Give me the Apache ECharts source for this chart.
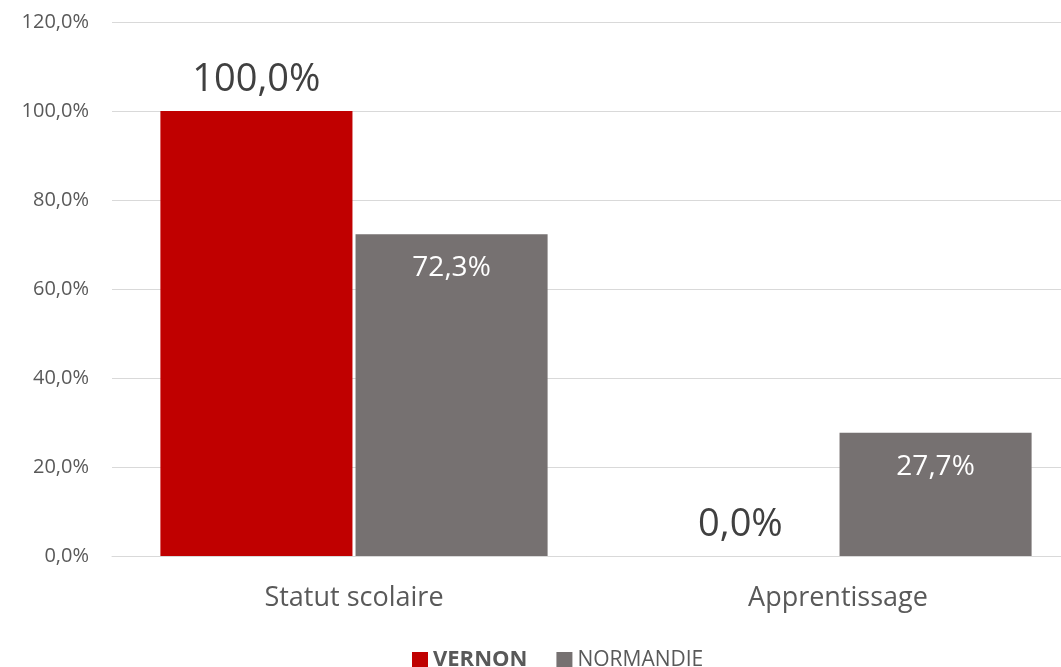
<!DOCTYPE html>
<html>
<head>
<meta charset="utf-8">
<script src="https://cdn.jsdelivr.net/npm/echarts@6/dist/echarts.min.js"></script>
<style>
html, body { margin: 0; padding: 0; background: #fff; }
#chart { width: 1061px; height: 667px; }
</style>
</head>
<body>
<div id="chart"></div>
<script>
var categories = ['Statut scolaire', 'Apprentissage'];
var vernon = [1.0, 0.0];
var normandie = [0.723, 0.277];
var yTicks = [0, 0.2, 0.4, 0.6, 0.8, 1.0, 1.2];

function pct(v) {
    return (v * 100).toFixed(1).replace('.', ',') + '%';
}

var myChart = echarts.init(document.getElementById('chart'));
var font = '"Open Sans", "Noto Sans", sans-serif';

var option = {
    animation: false,
    textStyle: { fontFamily: font },
    grid: { left: 112, width: 968, top: 22, bottom: 111, containLabel: false, outerBoundsMode: 'none' },
    legend: {
        top: 644,
        left: 407,
        itemWidth: 16,
        itemHeight: 16,
        itemGap: 29,
        icon: 'rect',
        textStyle: { fontSize: 21, color: '#595959', fontFamily: font },
        data: [
            { name: 'VERNON', textStyle: { fontWeight: 'bold', fontSize: 22 } },
            { name: 'NORMANDIE' }
        ]
    },
    xAxis: {
        type: 'category',
        data: categories,
        axisLine: { show: true, lineStyle: { color: '#D9D9D9' } },
        axisTick: { show: false },
        axisLabel: { fontSize: 27, color: '#595959', margin: 29 }
    },
    yAxis: {
        type: 'value',
        min: yTicks[0],
        max: yTicks[yTicks.length - 1],
        interval: 0.2,
        axisLine: { show: false },
        axisTick: { show: false },
        splitLine: { lineStyle: { color: '#D9D9D9', width: 1 } },
        axisLabel: { fontSize: 20, color: '#595959', margin: 23, formatter: pct }
    },
    series: [
        {
            name: 'VERNON',
            type: 'bar',
            data: vernon,
            barGap: '1.6%',
            barCategoryGap: '20%',
            itemStyle: { color: '#C00000' },
            label: {
                show: true,
                position: 'top',
                distance: 12,
                fontSize: 38,
                color: '#404040',
                formatter: function (p) { return pct(p.value); }
            }
        },
        {
            name: 'NORMANDIE',
            type: 'bar',
            data: normandie,
            itemStyle: { color: '#767171' },
            label: {
                show: true,
                position: 'insideTop',
                distance: 20,
                fontSize: 28,
                color: '#FFFFFF',
                formatter: function (p) { return pct(p.value); }
            }
        }
    ]
};

myChart.setOption(option);
</script>
</body>
</html>
